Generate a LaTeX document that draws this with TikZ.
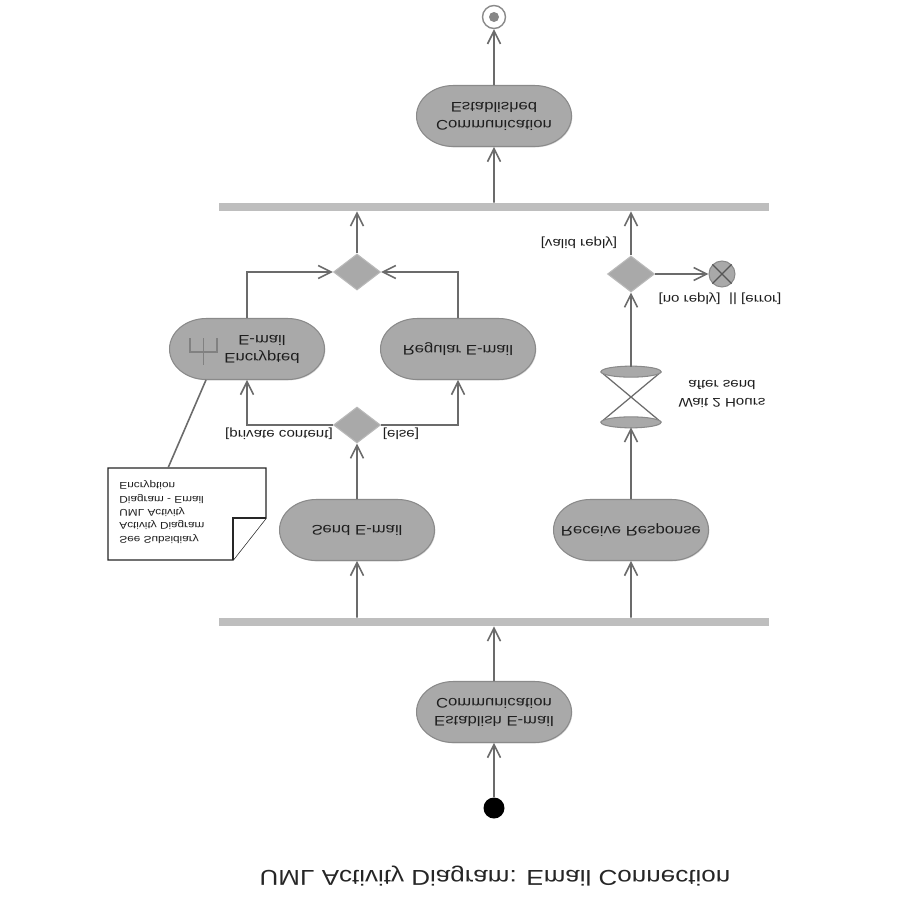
\documentclass[tikz,border=0pt]{standalone}
\usepackage{fontspec}
\setmainfont{Liberation Sans}
\setsansfont{Liberation Sans}
\usetikzlibrary{arrows.meta,positioning,calc,shapes.geometric,shapes.misc,shadows}
\definecolor{actF}{HTML}{A9A9A9}
\definecolor{actL}{HTML}{8A8A8A}
\definecolor{barF}{HTML}{BEBEBE}
\definecolor{ink}{HTML}{6B6B6B}
\definecolor{txt}{HTML}{1E1E1E}
\tikzset{
  every node/.style={font=\sffamily, text=txt},
  flip/.style={yscale=-0.83},   % the sheet reads upside down, text a bit wide
  act/.style ={flip, rounded rectangle, fill=actF, draw=actL, line width=0.6pt,
               minimum width=3.3cm, minimum height=1.47cm, inner sep=1mm, align=center,
               font=\sffamily\fontsize{9.5}{12.3}\selectfont,
               drop shadow={opacity=0.3, shadow xshift=0.5pt, shadow yshift=-0.5pt}},
  dec/.style ={diamond, fill=actF, draw=actL!60, line width=0.6pt,
               minimum width=0.94cm, minimum height=0.72cm, inner sep=0pt},
  bar/.style ={rectangle, fill=barF, minimum width=11cm, minimum height=0.16cm, inner sep=0pt},
  start/.style={circle, fill=black, minimum size=0.42cm, inner sep=0pt},
  fin/.style ={circle, draw=actL, fill=white, line width=0.8pt, minimum size=0.46cm, inner sep=0pt},
  ffin/.style={circle, fill=actF, draw=actL, line width=0.6pt, minimum size=0.52cm, inner sep=0pt},
  wait/.style={rectangle, minimum width=1.2cm, minimum height=1.2cm, inner sep=0pt},
  lbl/.style ={flip, font=\sffamily\fontsize{8.6}{12.3}\selectfont, inner sep=1pt, align=center},
  ar/.style  ={-{Straight Barb[length=2.6mm,width=2.6mm]}, line width=0.9pt, draw=ink},
  ln/.style  ={line width=0.9pt, draw=ink},
  hg/.style  ={fill=actF, draw=actL, line width=0.6pt},
  rake/.style={draw=ink!85, line width=0.8pt},
  notebox/.style={draw=black!85, line width=0.8pt, fill=white},
}
\begin{document}
\begin{tikzpicture}[x=0.02cm, y=-0.02cm]
\fill[white] (0,0) rectangle (900,900);
\useasboundingbox (0,0) rectangle (900,900);

\node[flip, font=\sffamily\fontsize{14.8}{17}\selectfont, text=black!85] (title) at (495,876)
  {UML Activity Diagram: Email Connection};

\node[start] (init) at (494,808) {};
\node[act] (estab) at (494,712) {Establish E-mail\\Communication};
\node[bar] (fork) at (494,622) {};
\node[act] (send) at (357,530) {Send E-mail};
\node[act] (recv) at (631,530) {Receive Response};
\node[dec] (split) at (357,425) {};
\node[act] (encr) at (247,349) {\hspace*{6mm}Encrypted\\\hspace*{6mm}E-mail};
\node[act] (reg) at (458,349) {Regular E-mail};
\node[dec] (merge) at (357,272) {};
\node[wait] (wait) at (631,397) {};
\node[dec] (chk) at (631,274) {};
\node[ffin] (err) at (722,274) {};
\node[bar] (join) at (494,207) {};
\node[act] (done) at (494,116) {Communication\\Established};
\node[fin] (end) at (494,17) {};

\node[lbl] (lpriv) at (279,434) {[private content]};
\node[lbl] (lelse) at (401,434) {[else]};
\node[lbl] (lwait) at (722,394) {Wait 2 Hours\\after send};
\node[lbl] (lvalid) at (579,243) {[valid reply]};
\node[lbl] (lerr) at (720,299) {[no reply]\ \ || [error]};

% subsidiary diagram note
\draw[notebox] (108,468) -- (266,468) -- (266,518) -- (233,560) -- (108,560) -- cycle;
\draw[notebox] (266,518) -- (233,518) -- (233,560);
\node[flip, align=left, font=\sffamily\fontsize{6.7}{9.2}\selectfont] (note) at (162,512)
  {See Subsidiary\\Activity Diagram\\UML Activity\\Diagram - Email\\Encryption};
\coordinate (notetop) at (168,468);
\draw[ln] (notetop) -- ($(encr.north)+(-41,0)$);

% rake on the encrypted action
\draw[rake] ($(encr)+(-57,-11)$) -- ++(0,14) -- ++(27,0) -- ++(0,-14)
            ($(encr)+(-43.5,-11)$) -- ++(0,27);

% hourglass
\draw[ink, line width=0.7pt] ($(wait.north west)+(0,5)$) -- ($(wait.south east)+(0,-5)$)
                             ($(wait.north east)+(0,5)$) -- ($(wait.south west)+(0,-5)$);
\draw[hg] ($(wait.north)+(0,5)$) ellipse [x radius=0.6cm, y radius=0.11cm];
\draw[hg] ($(wait.south)+(0,-5)$) ellipse [x radius=0.6cm, y radius=0.11cm];

\fill[actF!80!black] (end) circle (0.1cm);
\draw[ink!80!black, line width=0.7pt] (err.north west) -- (err.south east)
                                      (err.north east) -- (err.south west);

\draw[ar] (init) -- (estab);
\draw[ar] (estab) -- (fork);
\draw[ar] (send |- fork.north) -- (send);
\draw[ar] (recv |- fork.north) -- (recv);
\draw[ar] (send) -- (split);
\draw[ar] (split) -| (encr);
\draw[ar] (split) -| (reg);
\draw[ar] (encr) |- (merge);
\draw[ar] (reg) |- (merge);
\draw[ar] (merge) -- (merge |- join.south);
\draw[ar] (recv) -- (wait);
\draw[ar] (wait) -- (chk);
\draw[ar] (chk) -- (err);
\draw[ar] (chk) -- (chk |- join.south);
\draw[ar] (join) -- (done);
\draw[ar] (done) -- (end);

\end{tikzpicture}
\end{document}
